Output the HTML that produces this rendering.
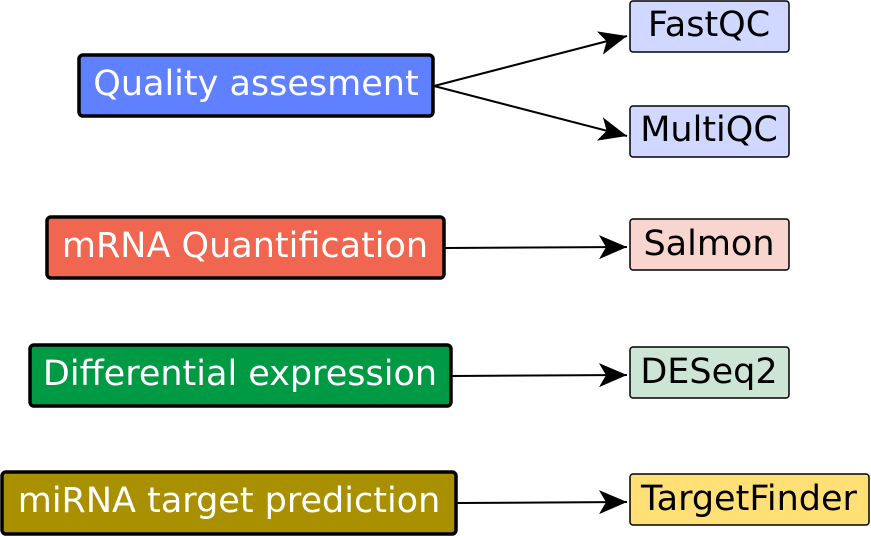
<!DOCTYPE html>
<html><head><meta charset="utf-8"><style>
html,body{margin:0;padding:0;background:#fff}
svg{display:block}
text{font-family:"DejaVu Sans","Liberation Sans",sans-serif;font-size:35px;dominant-baseline:central;text-anchor:middle}
</style></head><body>
<svg width="871" height="536" viewBox="0 0 871 536" xmlns="http://www.w3.org/2000/svg">
<defs>
<marker id="a" markerUnits="userSpaceOnUse" markerWidth="34" markerHeight="26" refX="30" refY="12" orient="auto">
<path d="M30,12 L2,0 L9,12 L2,24 Z" fill="#000"/>
</marker>
</defs>
<g stroke="#000" stroke-width="2" fill="none">
<line x1="434" y1="86" x2="627" y2="36" marker-end="url(#a)"/>
<line x1="434" y1="86" x2="627" y2="136" marker-end="url(#a)"/>
<line x1="445" y1="248" x2="627" y2="247" marker-end="url(#a)"/>
<line x1="452" y1="376" x2="627" y2="375" marker-end="url(#a)"/>
<line x1="457" y1="503" x2="627" y2="502" marker-end="url(#a)"/>
</g>
<g stroke="#000" stroke-width="3.5">
<rect x="79" y="55" width="354" height="61" rx="4" fill="#5f80ff"/>
<rect x="47" y="217" width="397" height="61" rx="4" fill="#f06650"/>
<rect x="30" y="345" width="421" height="61" rx="4" fill="#009944"/>
<rect x="2" y="472" width="454" height="62" rx="4" fill="#a89000"/>
</g>
<g stroke="#000" stroke-width="1.5">
<rect x="630" y="1" width="159" height="51" rx="3" fill="#d0d8ff"/>
<rect x="630" y="106" width="159" height="51" rx="3" fill="#d0d8ff"/>
<rect x="630" y="219" width="159" height="51" rx="3" fill="#f9d5d0"/>
<rect x="630" y="347" width="159" height="51" rx="3" fill="#cce5d5"/>
<rect x="630" y="474" width="239" height="51" rx="3" fill="#ffe076"/>
</g>
<g fill="#fff">
<text x="256" y="84">Quality assesment</text>
<text x="245" y="246">mRNA Quantification</text>
<text x="240" y="374">Differential expression</text>
<text x="229" y="501">miRNA target prediction</text>
</g>
<g fill="#000">
<text x="709" y="25">FastQC</text>
<text x="709" y="130">MultiQC</text>
<text x="709" y="244">Salmon</text>
<text x="709" y="372">DESeq2</text>
<text x="749" y="499">TargetFinder</text>
</g>
</svg>
</body></html>
